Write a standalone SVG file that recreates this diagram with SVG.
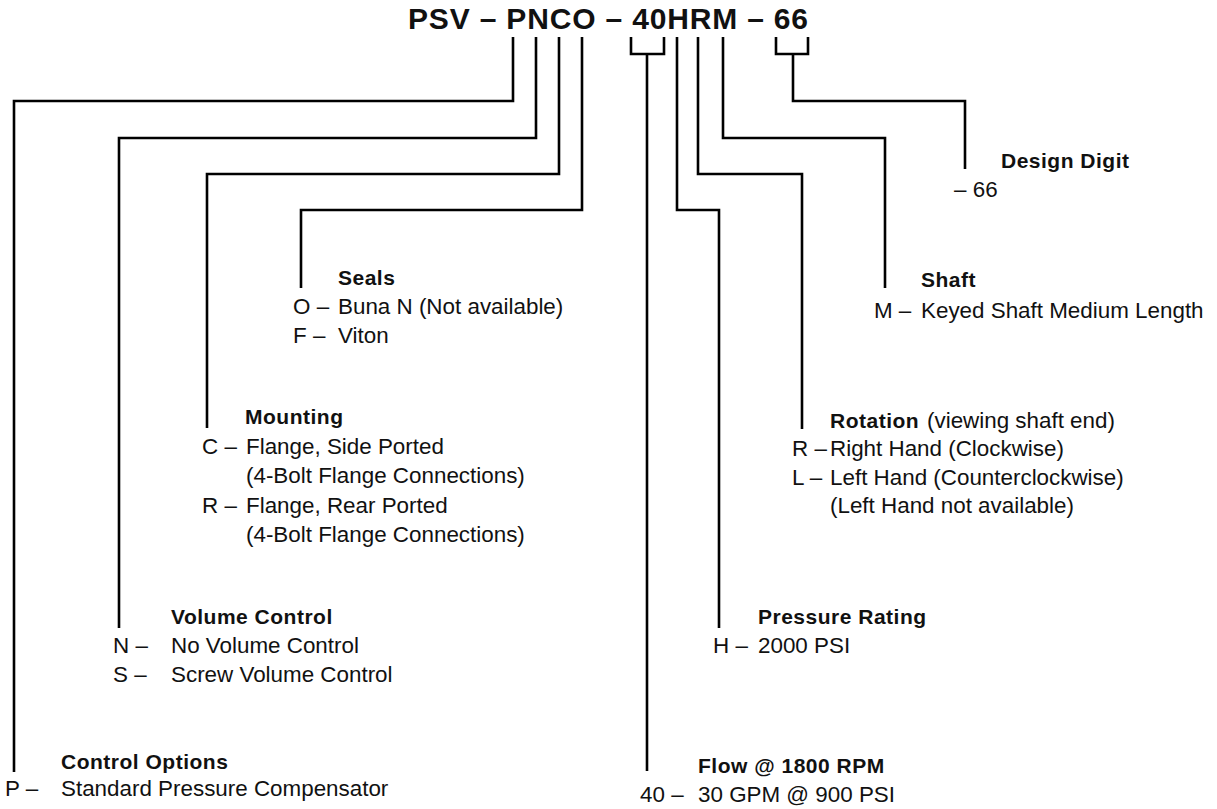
<svg xmlns="http://www.w3.org/2000/svg" width="1217" height="809" viewBox="0 0 1217 809">
<style>
text{font-family:"Liberation Sans",Arial,sans-serif;fill:#111}
.t{font-size:30px;font-weight:bold}
.h{font-size:21px;font-weight:bold;letter-spacing:0.5px}
.b{font-size:22.4px}
.c{fill:none;stroke:#000;stroke-width:2.6;stroke-linejoin:miter;stroke-linecap:butt}
</style>
<rect width="1217" height="809" fill="#fff"/>
<g id="title"><text class="t" x="408" y="29" textLength="400" lengthAdjust="spacing">PSV – PNCO – 40HRM – 66</text></g>
<g id="connectors" class="c">
<path d="M513,37 V101 H14 V772"/>
<path d="M536,37 V138 H119 V628"/>
<path d="M559,37 V174 H207 V428"/>
<path d="M582,37 V210 H301 V288"/>
<path d="M631,37 V54 H664 V37"/>
<path d="M647,54 V771"/>
<path d="M677,37 V210 H719 V628"/>
<path d="M698,37 V174 H802 V429"/>
<path d="M723,37 V138 H885 V288"/>
<path d="M776,37 V54 H808 V37"/>
<path d="M793,54 V101 H965 V169"/>
</g>
<g id="design-digit">
<text class="h" x="1001" y="168">Design Digit</text>
<text class="b" x="954" y="197">– 66</text>
</g>
<g id="shaft">
<text class="h" x="921" y="287">Shaft</text>
<text class="b" y="318"><tspan x="874">M –</tspan><tspan x="921">Keyed Shaft Medium Length</tspan></text>
</g>
<g id="seals">
<text class="h" x="338" y="285">Seals</text>
<text class="b" y="314"><tspan x="293">O –</tspan><tspan x="338">Buna N (Not available)</tspan></text>
<text class="b" y="343"><tspan x="293">F –</tspan><tspan x="338">Viton</tspan></text>
</g>
<g id="mounting">
<text class="h" x="245" y="424">Mounting</text>
<text class="b" y="454"><tspan x="202">C –</tspan><tspan x="246">Flange, Side Ported</tspan></text>
<text class="b" x="246" y="483">(4-Bolt Flange Connections)</text>
<text class="b" y="513"><tspan x="202">R –</tspan><tspan x="246">Flange, Rear Ported</tspan></text>
<text class="b" x="246" y="542">(4-Bolt Flange Connections)</text>
</g>
<g id="rotation">
<text x="830" y="428"><tspan class="h">Rotation</tspan><tspan class="b" x="927">(viewing shaft end)</tspan></text>
<text class="b" y="456"><tspan x="792">R –</tspan><tspan x="830">Right Hand (Clockwise)</tspan></text>
<text class="b" y="485"><tspan x="792">L –</tspan><tspan x="830">Left Hand (Counterclockwise)</tspan></text>
<text class="b" x="830" y="513">(Left Hand not available)</text>
</g>
<g id="volume-control">
<text class="h" x="171" y="624">Volume Control</text>
<text class="b" y="653"><tspan x="113">N –</tspan><tspan x="171">No Volume Control</tspan></text>
<text class="b" y="682"><tspan x="113">S –</tspan><tspan x="171">Screw Volume Control</tspan></text>
</g>
<g id="pressure-rating">
<text class="h" x="758" y="624">Pressure Rating</text>
<text class="b" y="653"><tspan x="713">H –</tspan><tspan x="758">2000 PSI</tspan></text>
</g>
<g id="control-options">
<text class="h" x="61" y="769">Control Options</text>
<text class="b" y="796"><tspan x="5">P –</tspan><tspan x="61">Standard Pressure Compensator</tspan></text>
</g>
<g id="flow">
<text class="h" x="698" y="773">Flow @ 1800 RPM</text>
<text class="b" y="802"><tspan x="640">40 –</tspan><tspan x="698">30 GPM @ 900 PSI</tspan></text>
</g>
</svg>
